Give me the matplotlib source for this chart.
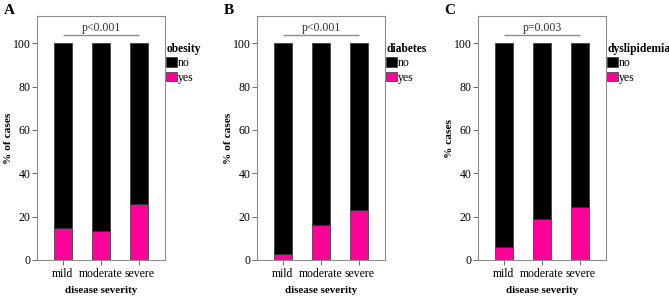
import numpy as np
import matplotlib
matplotlib.use('Agg')
import matplotlib.pyplot as plt
from matplotlib.patches import Patch

plt.rcParams['font.family'] = 'Liberation Serif'

# data
severity = ['mild', 'moderate', 'severe']
obesity_yes = [14.6, 13.4, 25.8]
diabetes_yes = [2.8, 16.0, 23.1]
dyslip_yes = [5.8, 18.8, 24.5]

panels = ['A', 'B', 'C']
legend_titles = ['obesity', 'diabetes', 'dyslipidemia']
ylabels = ['% of cases', '% of cases', '% cases']
pvals = ['p<0.001', 'p<0.001', 'p=0.003']
yes_vals = [obesity_yes, diabetes_yes, dyslip_yes]

pink = '#ff0099'
grey = '#8c8c8c'

fig = plt.figure(figsize=(6.69, 2.96), dpi=100)
lefts = [37, 257, 478]
panel_x = [4, 224, 444]

for i in range(3):
    ax = fig.add_axes([lefts[i]/669, 1-260/296, 128/669, 244/296])
    x = np.arange(len(severity))
    yes = np.array(yes_vals[i])
    no = 100 - yes
    ax.bar(x, yes, width=0.46, color=pink, edgecolor='#333333', linewidth=0.5, zorder=2)
    ax.bar(x, no, bottom=yes, width=0.46, color='black', edgecolor='#333333', linewidth=0.5, zorder=2)
    ax.set_xlim(-0.68, 2.68)
    ax.set_ylim(0, 112.6)
    ax.set_xticks(x)
    ax.set_xticklabels(severity, fontsize=8.5)
    ax.set_yticks([0, 20, 40, 60, 80, 100])
    ax.tick_params(axis='both', labelsize=8.5, color='#555555', length=3.6, width=0.6, pad=1)
    ax.tick_params(axis='x', pad=2.5)
    for s in ax.spines.values():
        s.set_color(grey)
        s.set_linewidth(0.8)
    ax.set_xlabel('disease severity', fontsize=7.8, fontweight='bold', labelpad=4)
    ax.set_ylabel(ylabels[i], fontsize=8.2, fontweight='bold')
    ax.yaxis.set_label_coords(-0.19, 0.5)
    # p-value bracket
    ax.plot([0, 2], [103.8, 103.8], color=grey, lw=1.0, solid_capstyle='butt')
    ax.text(1, 104.3, pvals[i], ha='center', va='bottom', fontsize=8.5, color='#333333')
    handles = [Patch(facecolor='black', edgecolor='#333333', lw=0.5, label='no'),
               Patch(facecolor=pink, edgecolor='#333333', lw=0.5, label='yes')]
    leg = ax.legend(handles=handles, title=legend_titles[i], loc='upper left',
                    bbox_to_anchor=(1.0, 0.895), frameon=False, fontsize=8.5,
                    handlelength=0.9, handleheight=0.9, handletextpad=0.1,
                    labelspacing=0.2, borderaxespad=0.0, borderpad=0.1, alignment='left')
    leg.get_title().set_fontweight('bold')
    leg.get_title().set_fontsize(8.3)
    fig.text(panel_x[i]/669, 1-10/296, panels[i], fontsize=11, fontweight='bold', va='center', ha='left')

fig.savefig('out.png', dpi=100)
